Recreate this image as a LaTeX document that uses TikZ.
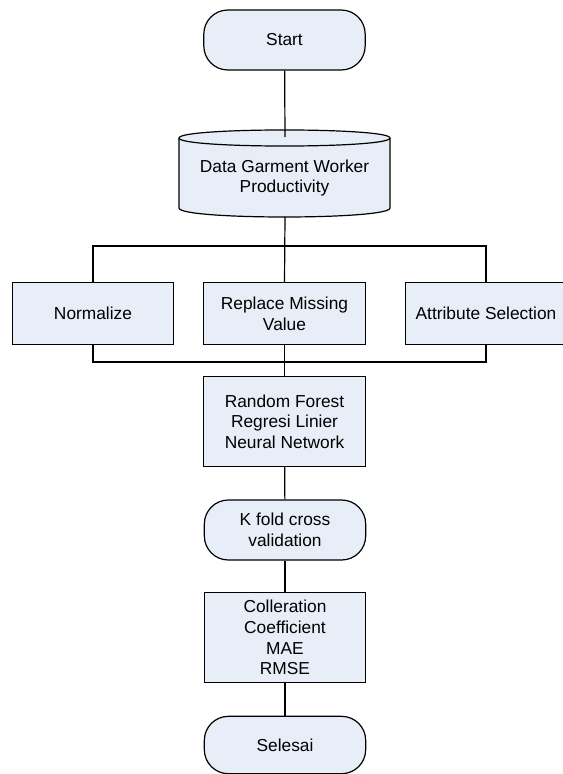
\documentclass[tikz,border=0pt]{standalone}
\usepackage{fontspec}
\setmainfont{Liberation Sans}
\usepackage{xcolor}
\usetikzlibrary{positioning}

\definecolor{boxfill}{RGB}{232,238,247}

\tikzset{
  terminal/.style = {draw, fill=boxfill, rounded corners=18pt, align=center,
    minimum width=121pt, minimum height=45pt, inner sep=1pt},
  procbox/.style = {draw, fill=boxfill, align=center,
    minimum width=121pt, inner sep=1pt},
  txt/.style = {font=\fontsize{13}{15.5}\selectfont}
}

\begin{document}
\begin{tikzpicture}[x=0.75pt, y=-0.75pt, line width=0.9pt, every node/.style={txt}]

\useasboundingbox (0,0) rectangle (563,774);

% -- start
\draw (284.5,40) node[terminal] (start) {Start};

% -- data store (cylinder)
\filldraw[fill=boxfill] (179,138) .. controls (179,127.3) and (390,127.3) .. (390,138)
  -- (390,208) .. controls (390,220) and (179,220) .. (179,208) -- cycle;
\draw (179,138) .. controls (179,148.7) and (390,148.7) .. (390,138);
\node[align=center] (data) at (284.5,178) {Data Garment Worker\\Productivity};
\coordinate (datatop) at (285,137);
\coordinate (databot) at (285,217);

% -- preprocessing
\draw (93,313.5) node[procbox, minimum height=46pt] (normalize) {Normalize};
\draw (284.5,313.5) node[procbox, minimum height=46pt] (replace) {Replace Missing\\Value};
\draw (486,313.5) node[procbox, minimum height=46pt] (attrib) {Attribute Selection};
\coordinate (bustop) at (285,246);
\coordinate (busbot) at (285,362);

% -- algorithms
\draw (284.5,421.5) node[procbox, minimum height=67pt] (algo) {Random Forest\\Regresi Linier\\Neural Network};

% -- validation
\draw (285,530) node[terminal] (kfold) {K fold cross\\validation};

% -- evaluation
\draw (285,637.5) node[procbox, minimum height=68pt] (eval) {Colleration\\Coefficient\\MAE\\RMSE};

% -- end
\draw (285,745) node[terminal, minimum height=43pt] (selesai) {Selesai};

% -- connectors
\draw (start) -- (datatop);
\draw (databot) -- (replace.north);
\draw (normalize.north) |- (bustop) -| (attrib.north);
\draw (normalize.south) |- (busbot) -| (attrib.south);
\draw (replace.south) -- (algo.north);
\draw (algo) -- (kfold);
\draw (kfold) -- (eval);
\draw (eval) -- (selesai);

\end{tikzpicture}
\end{document}
